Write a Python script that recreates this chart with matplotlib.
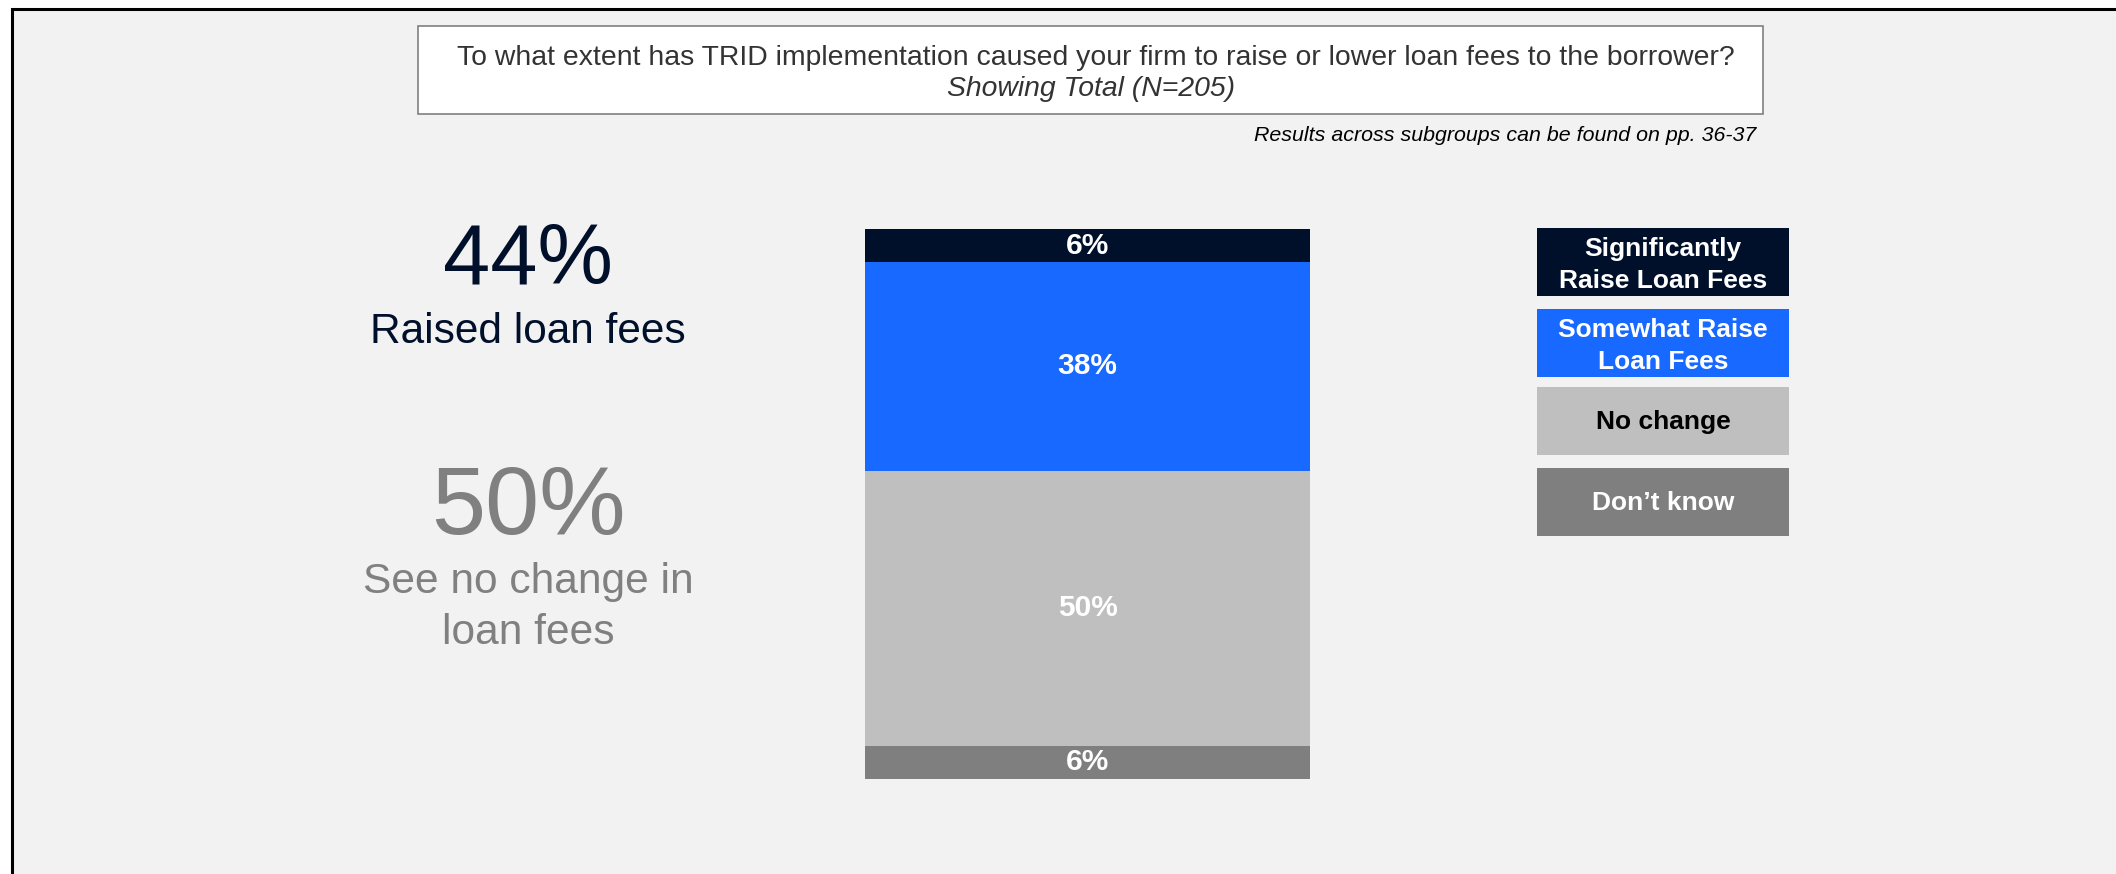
import matplotlib.pyplot as plt
from matplotlib.patches import Rectangle

plt.rcParams['font.family'] = ['Liberation Sans', 'DejaVu Sans']

# data, bottom to top of the stacked bar
categories = ["Don\u2019t know", "No change", "Somewhat Raise\nLoan Fees", "Significantly\nRaise Loan Fees"]
values = [6, 50, 38, 6]
colors = ["#7F7F7F", "#BFBFBF", "#1769FF", "#000F2A"]
legend_text_colors = ["white", "black", "white", "white"]

title = "To what extent has TRID implementation caused your firm to raise or lower loan fees to the borrower?"
subtitle = "Showing Total (N=205)"
note = "Results across subgroups can be found on pp. 36-37"

raised = values[2] + values[3]
no_change = values[1]

W, H = 2116, 874
fig = plt.figure(figsize=(W / 100, H / 100), dpi=100, facecolor="white")

# overlay axes in pixel units for the page furniture
bg = fig.add_axes([0, 0, 1, 1], zorder=0)
bg.set_xlim(0, W)
bg.set_ylim(H, 0)
bg.axis("off")

bg.add_patch(Rectangle((11.5, 8.5), W + 100, H + 100, facecolor="#F2F2F2",
                       edgecolor="black", linewidth=2.2))

# title box
bg.add_patch(Rectangle((418, 26), 1763 - 418, 114 - 26, facecolor="white",
                       edgecolor="#808080", linewidth=1.2))
bg.text(1096, 65, title, ha="center", va="baseline", fontsize=20.4, color="#333333")
bg.text(1091, 96, subtitle, ha="center", va="baseline", fontsize=20.4, color="#333333",
        style="italic")
bg.text(1756, 141, note, ha="right", va="baseline", fontsize=15.4, color="black",
        style="italic")

# big callouts on the left
bg.text(528, 283, f"{raised}%", ha="center", va="baseline", fontsize=61, color="#000F2A")
bg.text(528, 343, "Raised loan fees", ha="center", va="baseline", fontsize=30.5, color="#000F2A")
bg.text(528, 534, f"{no_change}%", ha="center", va="baseline", fontsize=70, color="#808080")
bg.text(528, 593, "See no change in", ha="center", va="baseline", fontsize=30.6, color="#808080")
bg.text(528, 644, "loan fees", ha="center", va="baseline", fontsize=30.6, color="#808080")

# legend boxes, top to bottom
box_tops = [228, 309, 387, 468]
box_h = 68
for i, top in enumerate(box_tops):
    k = len(categories) - 1 - i
    bg.add_patch(Rectangle((1537, top), 1789 - 1537, box_h, facecolor=colors[k],
                           edgecolor="none"))
    dy = 3 if "\n" in categories[k] else 1
    bg.text(1663, top + box_h / 2 + dy, categories[k], ha="center", va="center",
            fontsize=19, fontweight="bold", color=legend_text_colors[k],
            linespacing=1.4)

# stacked bar
ax = fig.add_axes([865 / W, (H - 779) / H, (1310 - 865) / W, (779 - 229) / H], zorder=1)
ax.patch.set_visible(False)
bottom = 0
for v, c in zip(values, colors):
    ax.bar(0, v, bottom=bottom, width=1.0, color=c, edgecolor="none")
    ax.text(0, bottom + v / 2, f"{v}%", ha="center", va="center", fontsize=21.5,
            fontweight="bold", color="white")
    bottom += v
ax.set_xlim(-0.5, 0.5)
ax.set_ylim(0, sum(values))
ax.axis("off")

fig.savefig("out.png", dpi=100, facecolor=fig.get_facecolor())
